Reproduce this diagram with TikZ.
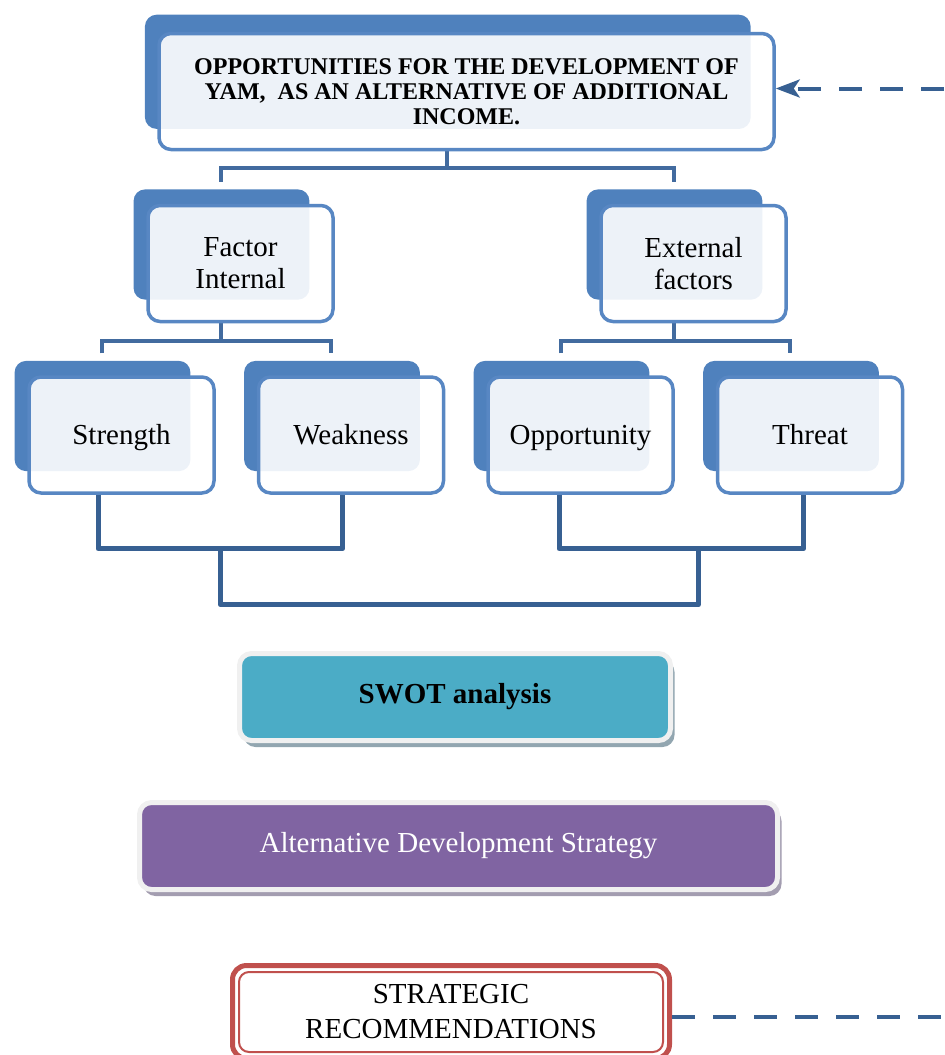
\documentclass[tikz,border=0pt]{standalone}
\usepackage{fontspec}
\setmainfont{Liberation Serif}
\usetikzlibrary{positioning,shadows,backgrounds,calc,arrows.meta}

\definecolor{boxblue}{HTML}{4F81BD}
\definecolor{lineblue}{HTML}{5887C3}
\definecolor{linkblue}{HTML}{426B9F}
\definecolor{darkblue}{HTML}{376092}
\definecolor{swotteal}{HTML}{4BACC6}
\definecolor{swotshadow}{HTML}{92A6B0}
\definecolor{altpurple}{HTML}{8064A2}
\definecolor{altshadow}{HTML}{A39DB0}
\definecolor{framegrey}{HTML}{F0F0F0}
\definecolor{recred}{HTML}{C0504D}

\begin{document}
\begin{tikzpicture}[
    x=0.5pt, y=-0.5pt,
    node distance=20.5pt,
    every node/.style={font=\fontsize{14.5}{16}\selectfont},
    frontbox/.style={draw=lineblue, line width=1.75pt, fill=white,
                  fill opacity=0.9, text opacity=1, rounded corners=6pt,
                  align=center, minimum width=92.5pt, minimum height=58pt,
                  inner sep=2pt,
                  general shadow={fill=boxblue, fill opacity=1, shadow scale=0.95,
                                  shadow xshift=-10pt, shadow yshift=10pt}},
    leafbox/.style={frontbox, text height=10pt, text depth=0.5pt},
    titlebox/.style={draw=lineblue, line width=1.75pt, fill=white,
                  fill opacity=0.9, text opacity=1, rounded corners=6pt,
                  align=center, minimum width=307.5pt, minimum height=58pt,
                  inner sep=2pt,
                  general shadow={fill=boxblue, fill opacity=1, shadow scale=0.985,
                                  shadow xshift=-9.5pt, shadow yshift=10pt},
                  font=\bfseries\fontsize{12}{12.5}\selectfont},
    framed/.style={draw=framegrey, line width=2.5pt, rounded corners=6pt,
                  minimum height=43.5pt},
    link/.style={draw=linkblue, line width=2pt},
    bracket/.style={draw=darkblue, line width=2.5pt, line join=round},
    dashlink/.style={draw=darkblue, line width=2pt, dash pattern=on 11.5pt off 9pt}
  ]
    \useasboundingbox (0,0) rectangle (944,1055);
    \coordinate (edge) at (944,0);

    % Titulo y factores
    \node[titlebox] (meta) at (466.5,91.5)
      {OPPORTUNITIES FOR THE DEVELOPMENT OF\\YAM,~ AS AN ALTERNATIVE OF ADDITIONAL\\INCOME.};
    \node[frontbox] (fint) at (240.5,263.5) {Factor\\Internal};
    \node[frontbox] (fext) at (693.5,263.5) {External\\factors};

    % Fila de SWOT
    \node[leafbox] (fuer) at (121.5,435) {Strength};
    \node[leafbox, right=of fuer] (debi) {Weakness};
    \node[leafbox, right=of debi] (opor) {Opportunity};
    \node[leafbox, right=of opor] (amen) {Threat};

    % Bloques inferiores
    \node[framed, fill=swotteal, minimum width=215.5pt,
          font=\bfseries\fontsize{14.5}{16}\selectfont,
          drop shadow={shadow xshift=2pt, shadow yshift=-3.25pt, fill=swotshadow, opacity=1}]
      (swot) at (455,697) {SWOT analysis};
    \node[framed, fill=altpurple, text=white, minimum width=319pt,
          drop shadow={shadow xshift=2pt, shadow yshift=-3.25pt, fill=altshadow, opacity=1}]
      (estr) at (458.5,846) {Alternative Development Strategy};
    \node[draw=recred, line width=2.5pt, fill=white, rounded corners=7pt,
          minimum width=218.5pt, minimum height=46.5pt, align=center,
          font=\fontsize{14.5}{17.5}\selectfont]
      (reco) at (451,1012) {STRATEGIC\\RECOMMENDATIONS};
    \draw[recred, line width=1pt, rounded corners=5pt]
      ([shift={(4.5pt,-4.5pt)}]reco.north west) rectangle ([shift={(-4.5pt,4.5pt)}]reco.south east);

    % Conexiones
    \begin{scope}[on background layer]
      \draw[link] ([xshift=-10pt]meta.south) -- ++(0,-8.5pt) coordinate (m0);
      \draw[link] ([xshift=-10pt,yshift=11pt]fint.north) |- (m0) -| ([xshift=-10pt,yshift=11pt]fext.north);
      \draw[link] ([xshift=-10pt]fint.south) -- ++(0,-9pt) coordinate (i0);
      \draw[link] ([xshift=-10pt,yshift=11pt]fuer.north) |- (i0) -| ([xshift=-10pt,yshift=11pt]debi.north);
      \draw[link] ([xshift=-10pt]fext.south) -- ++(0,-9pt) coordinate (e0);
      \draw[link] ([xshift=-10pt,yshift=11pt]opor.north) |- (e0) -| ([xshift=-10pt,yshift=11pt]amen.north);
    \end{scope}
    \draw[bracket] ([xshift=-11.75pt]fuer.south) -- ++(0,-27pt) coordinate (s0)
      -| ([xshift=-4.25pt]debi.south) coordinate (s1);
    \draw[bracket] ([xshift=-10.75pt]opor.south) -- ++(0,-27pt) coordinate (o0)
      -| ([xshift=-3.25pt]amen.south) coordinate (o1);
    \draw[bracket] ($(s0)!0.5!(s0 -| s1)$) -- ++(0,-28pt) -| ($(o0)!0.57!(o0 -| o1)$);

    % Retroalimentacion
    \draw[dashlink, -{Stealth[length=12pt, width=9pt, inset=3pt]}]
      ([yshift=1.5pt]meta.east -| edge) -- ([yshift=1.5pt]meta.east);
    \draw[dashlink] ([yshift=-2.5pt]reco.east) -- ([yshift=-2.5pt]reco.east -| edge);
  \end{tikzpicture}
\end{document}
